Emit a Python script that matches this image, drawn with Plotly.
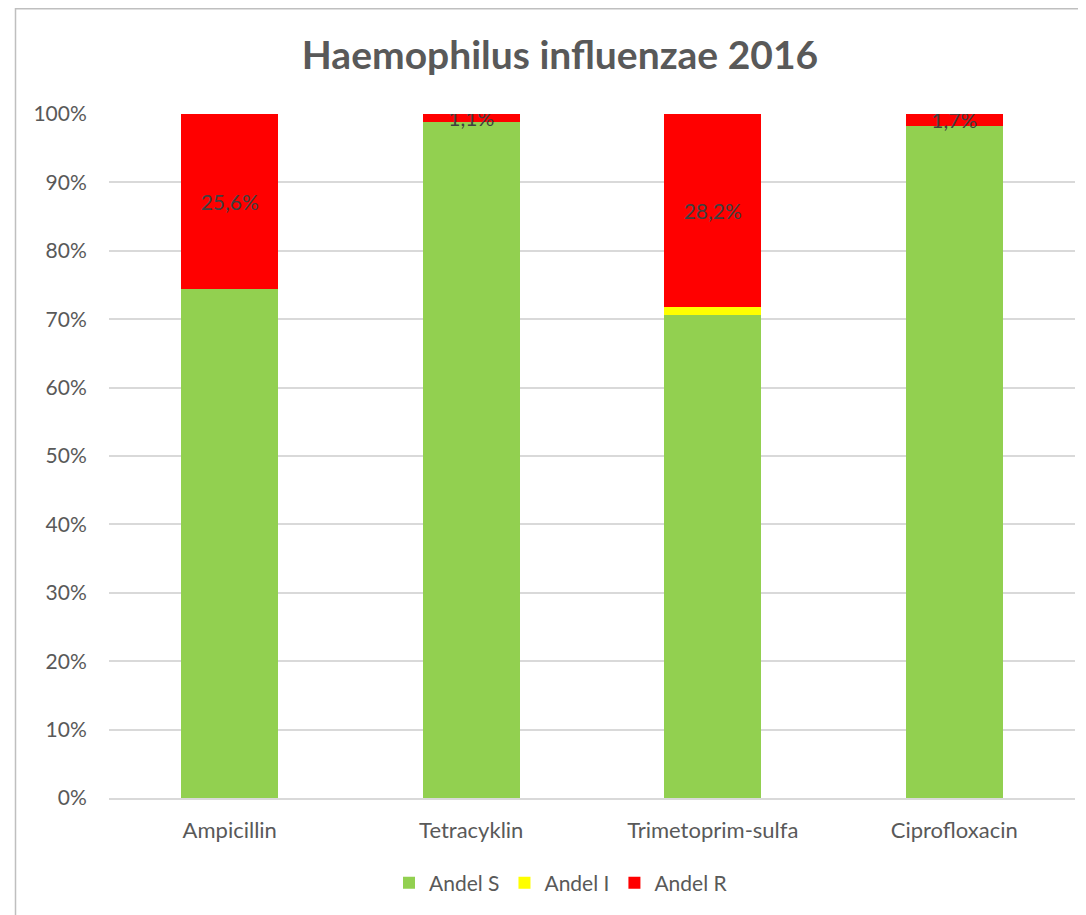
import plotly.graph_objects as go

categories = ["Ampicillin", "Tetracyklin", "Trimetoprim-sulfa", "Ciprofloxacin"]
andel_s = [74.4, 98.9, 70.6, 98.3]
andel_i = [0.0, 0.0, 1.2, 0.0]
andel_r = [25.6, 1.1, 28.2, 1.7]
y_ticks = [0, 10, 20, 30, 40, 50, 60, 70, 80, 90, 100]
y_tick_labels = [f"{t}%" for t in y_ticks]

FONT = "Lato, 'Open Sans', sans-serif"
GRAY = "#595959"
GRID = "#d9d9d9"

# page body has an 8px margin; figure sized to fill the rest of the window
W, H = 1078, 907
L, T = 101, 106
PW, PH = 966, 684

def fmt(v):
    return f"{v:.1f}%".replace(".", ",")

fig = go.Figure()
fig.add_trace(go.Bar(x=categories, y=andel_s, name="Andel S",
                     marker=dict(color="#92d050", line=dict(width=0))))
fig.add_trace(go.Bar(x=categories, y=andel_i, name="Andel I",
                     marker=dict(color="#ffff00", line=dict(width=0))))
fig.add_trace(go.Bar(x=categories, y=andel_r, name="Andel R",
                     marker=dict(color="#ff0000", line=dict(width=0)),
                     text=[fmt(v) for v in andel_r], textposition="inside",
                     insidetextanchor="middle",
                     textfont=dict(family=FONT, size=21, color="#404040")))

fig.update_layout(
    barmode="stack",
    bargap=0.6,
    width=W, height=H,
    margin=dict(l=L, r=W - L - PW, t=T, b=H - T - PH),
    paper_bgcolor="white", plot_bgcolor="white",
    font=dict(family=FONT, size=21, color=GRAY),
    uniformtext=dict(minsize=21, mode="show"),
    title=dict(text="<b>Haemophilus influenzae 2016</b>",
               font=dict(family=FONT, size=39, color=GRAY),
               x=552 / W, xanchor="center", xref="container",
               y=1 - 47 / H, yanchor="middle", yref="container"),
    legend=dict(orientation="h", xref="container", yref="container",
                x=553 / W, xanchor="center", y=1 - 875 / H, yanchor="middle",
                font=dict(family=FONT, size=21, color=GRAY),
                itemwidth=30, traceorder="normal"),
    showlegend=True,
)
fig.update_yaxes(range=[0, 100], tickvals=y_ticks, ticktext=y_tick_labels,
                 showgrid=True, gridcolor=GRID, gridwidth=1.5, zeroline=False,
                 ticks="outside", ticklen=17, tickcolor="rgba(0,0,0,0)",
                 tickfont=dict(family=FONT, size=21, color=GRAY))
fig.update_xaxes(showline=True, linecolor=GRID, linewidth=1.5,
                 ticks="outside", ticklen=12, tickcolor="rgba(0,0,0,0)",
                 tickfont=dict(family=FONT, size=22, color=GRAY))

# chart area border (right and bottom edges fall outside the captured region)
fig.add_shape(type="rect", xref="paper", yref="paper",
              x0=(7.5 - L) / PW, x1=1.2, y0=-0.3, y1=(T + PH - 0.75) / PH,
              line=dict(color="#bfbfbf", width=1.5), fillcolor="rgba(0,0,0,0)",
              layer="below")

fig.write_html("out.html")
